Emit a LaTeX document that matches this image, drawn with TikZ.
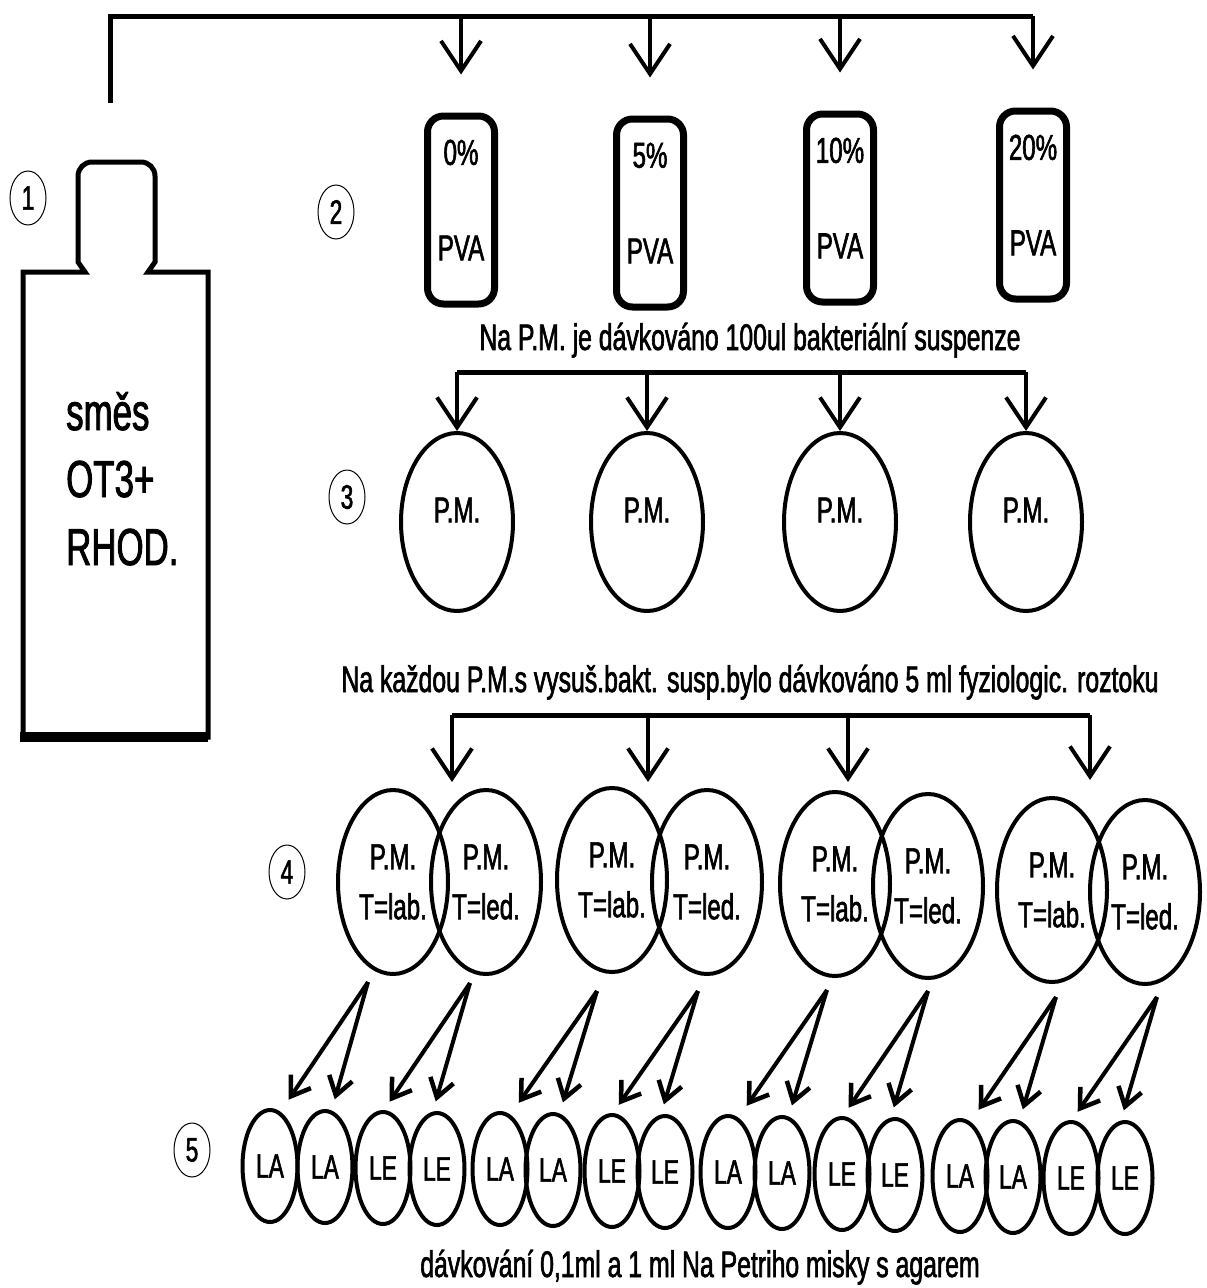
\documentclass[tikz,border=0pt]{standalone}
\usepackage{fontspec}
\setmainfont{Liberation Sans}[FakeStretch=0.67, FakeBold=1.6]
\usetikzlibrary{arrows.meta,positioning,shapes.geometric}

\begin{document}
\begin{tikzpicture}[
    x=1pt, y=-1pt,
    every node/.style={inner sep=0pt},
    bus/.style={line width=5pt},
    feed/.style={line width=4pt, -{Straight Barb[length=30pt, width=40pt, line width=4pt]}},
    split/.style={line width=4pt, shorten >=10pt, -{Straight Barb[length=18pt, width=24pt, line width=4.5pt]}},
    glass/.style={line width=5pt},
    vial/.style={draw, line width=7pt, rounded corners=16pt, minimum width=67pt, minimum height=188pt},
    tag/.style={font=\fontsize{36}{40}\selectfont},
    mix/.style={font=\fontsize{52}{60}\selectfont},
    note/.style={font=\fontsize{37}{42}\selectfont},
    num/.style={draw, ellipse, line width=1pt, minimum width=36pt, minimum height=54pt, font=\fontsize{34}{36}\selectfont},
    dish/.style={draw, ellipse, line width=4pt, minimum width=112pt, minimum height=178pt, text depth=24pt, font=\fontsize{36}{40}\selectfont},
    pair/.style={draw, ellipse, line width=4pt, minimum width=110pt, minimum height=184pt, align=center, font=\fontsize{36}{50}\selectfont},
    plate/.style={draw, ellipse, line width=4pt, minimum width=55pt, minimum height=112pt, font=\fontsize{34}{36}\selectfont}
  ]
  \fill[white] (0,0) rectangle (1207,1288);
  \useasboundingbox (0,0) rectangle (1207,1288);

  \node[num] (n1) at (28,198) {1};
  \node[num] (n2) at (336,212) {2};
  \node[num] (n3) at (347,497) {3};
  \node[num] (n4) at (287,872) {4};
  \node[num] (n5) at (192,1150) {5};

  \draw[glass] (23,737) -- (23,272) -- (85,272) -- (78,262) -- (78,176)
    arc[start angle=180, end angle=270, radius=14] -- (141,162)
    arc[start angle=270, end angle=360, radius=14] -- (155,262)
    -- (148,272) -- (208,272) -- (208,737) -- cycle;
  \draw[line width=10pt] (20,737) -- (208,737);
  \foreach \t/\y [count=\i] in {směs/430, OT3+/497, RHOD./565}
    \node[mix, anchor=base west] (m\i) at (66,\y) {\t};

  \node[vial] (v0) at (461,210) {};
  \node[vial] (v5) at (650,213) {};
  \node[vial] (v10) at (840,208) {};
  \node[vial] (v20) at (1033,205) {};
  \foreach \v/\p in {v0/0, v5/5, v10/10, v20/20} {
    \node[tag, below=27pt of \v.north] {\p\%};
    \node[tag, above=47pt of \v.south] {PVA};
  }

  \coordinate (src) at (110,103);
  \coordinate (bus1) at (110,16);
  \draw[bus] (src) -- (bus1) -- (v20 |- bus1);
  \foreach \v in {v0,v5,v10,v20}
    \draw[feed] (\v |- bus1) -- ([yshift=38pt]\v.north);

  \node[note, anchor=base] (cap1) at (750,350) {Na P.M. je dávkováno 100ul bakteriální suspenze};

  \node[dish] (d1) at (457,522) {P.M.};
  \node[dish] (d2) at (647,522) {P.M.};
  \node[dish] (d3) at (840,522) {P.M.};
  \node[dish] (d4) at (1026,522) {P.M.};

  \coordinate (bus2) at (742,372);
  \draw[bus] (d1 |- bus2) -- (d4 |- bus2);
  \foreach \d in {d1,d2,d3,d4}
    \draw[feed] (\d |- bus2) -- (\d.north);

  \node[note, anchor=base] (cap2) at (750,692) {Na každou P.M.s vysuš.bakt. susp.bylo dávkováno 5 ml fyziologic. roztoku};

  \node[pair] (p1a) at (393,882) {P.M.\\T=lab.};
  \node[pair] (p1b) at (486,882) {P.M.\\T=led.};
  \node[pair] (p2a) at (612,880) {P.M.\\T=lab.};
  \node[pair] (p2b) at (707,882) {P.M.\\T=led.};
  \node[pair] (p3a) at (835,884) {P.M.\\T=lab.};
  \node[pair] (p3b) at (928,886) {P.M.\\T=led.};
  \node[pair] (p4a) at (1052,890) {P.M.\\T=lab.};
  \node[pair] (p4b) at (1145,892) {P.M.\\T=led.};

  \coordinate (bus3) at (770,715);
  \coordinate (t1) at (452,782);
  \coordinate (t2) at (648,782);
  \coordinate (t3) at (848,782);
  \coordinate (t4) at (1090,780);
  \draw[bus] (t1 |- bus3) -- (t4 |- bus3);
  \foreach \t in {t1,t2,t3,t4}
    \draw[feed] (\t |- bus3) -- (\t);

  \foreach \x/\y/\t [count=\i] in {270/1166/LA, 325/1167/LA, 383/1168/LE, 437/1169/LE,
      500/1169/LA, 553/1170/LA, 612/1171/LE, 665/1172/LE, 728/1172/LA, 782/1173/LA,
      842/1174/LE, 895/1175/LE, 960/1176/LA, 1013/1177/LA, 1071/1178/LE, 1125/1178/LE}
    \node[plate] (s\i) at (\x,\y) {\t};

  \coordinate (o1) at (368,982);
  \coordinate (o2) at (470,983);
  \coordinate (o3) at (597,991);
  \coordinate (o4) at (698,991);
  \coordinate (o5) at (827,990);
  \coordinate (o6) at (928,991);
  \coordinate (o7) at (1056,997);
  \coordinate (o8) at (1157,997);
  \foreach \i/\a/\b/\da/\db in {1/1/2/13/7, 2/3/4/1/-4, 3/5/6/13/7, 4/7/8/1/-4,
      5/9/10/13/7, 6/11/12/1/-4, 7/13/14/13/7, 8/15/16/1/-4} {
    \draw[split] (o\i) -- ([xshift=\da pt]s\a.north);
    \draw[split] (o\i) -- ([xshift=\db pt]s\b.north);
  }

  \node[note, anchor=base] (cap3) at (700,1277) {dávkování 0,1ml a 1 ml Na Petriho misky s agarem};
\end{tikzpicture}
\end{document}
